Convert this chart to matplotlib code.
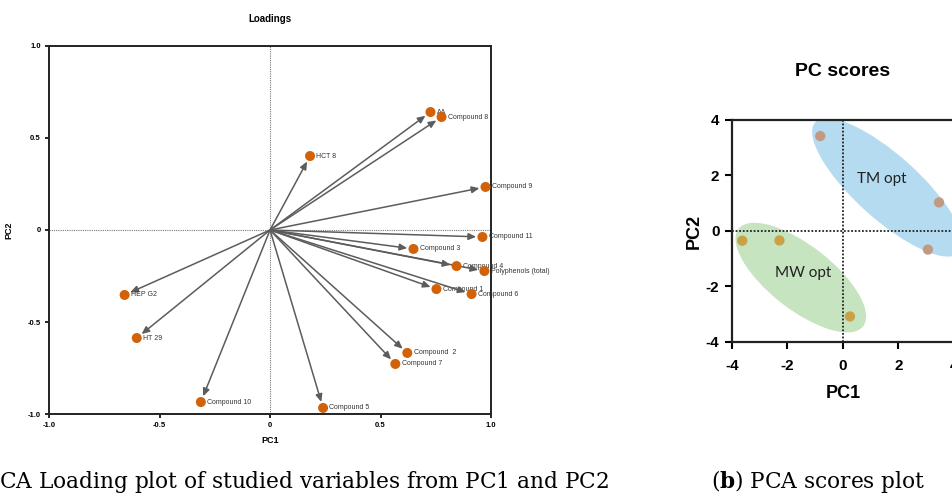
import matplotlib

matplotlib.use("Agg")
import matplotlib.pyplot as plt
from matplotlib.patches import Ellipse

plt.rcParams["axes.unicode_minus"] = False
plt.rcParams["mathtext.fontset"] = "custom"
plt.rcParams["mathtext.rm"] = "DejaVu Serif"
plt.rcParams["mathtext.bf"] = "DejaVu Serif:bold"

# loadings (PC1, PC2)
var_names = ["AA", "Compound 8", "HCT 8", "Compound 9", "Compound 11", "Compound 3",
             "Compound 4", "Polyphenols (total)", "Compound 1", "Compound 6",
             "Compound  2", "Compound 7", "Compound 5", "Compound 10", "HEP G2", "HT 29"]
load_pc1 = [0.726, 0.776, 0.181, 0.975, 0.961, 0.649, 0.844, 0.970, 0.753, 0.912,
            0.621, 0.567, 0.240, -0.313, -0.658, -0.603]
load_pc2 = [0.641, 0.614, 0.402, 0.234, -0.038, -0.103, -0.196, -0.223, -0.321, -0.348,
            -0.668, -0.728, -0.967, -0.935, -0.353, -0.587]
load_ticks = [-1.0, -0.5, 0, 0.5, 1.0]
load_ticklabels = ["-1.0", "-0.5", "0", "0.5", "1.0"]

# scores, two groups
tm_pc1 = [-0.82, 3.46, 3.06]
tm_pc2 = [3.42, 1.03, -0.67]
mw_pc1 = [-3.63, -2.29, 0.25]
mw_pc2 = [-0.35, -0.34, -3.08]
score_ticks = [-4, -2, 0, 2, 4]

caption_a = r"($\mathbf{a}$) PCA Loading plot of studied variables from PC1 and PC2"
caption_b = r"($\mathbf{b}$) PCA scores plot"

ORANGE = "#d2620a"
GREY = "#5c5c5c"
W, H = 952, 496

fig = plt.figure(figsize=(9.52, 4.96), dpi=100)

# ---- (a) loadings ----
ax = fig.add_axes([0.0515, 0.1653, 0.4643, 0.742])
ax.set_xlim(-1, 1)
ax.set_ylim(-1, 1)
ax.axhline(0, color="#777777", lw=0.8, ls=(0, (1, 1)), zorder=0)
ax.axvline(0, color="#777777", lw=0.8, ls=(0, (1, 1)), zorder=0)
for name, x, y in zip(var_names, load_pc1, load_pc2):
    ax.annotate("", xy=(x, y), xytext=(0, 0),
                arrowprops=dict(arrowstyle="-|>,head_length=0.45,head_width=0.2",
                                color=GREY, lw=1.1, shrinkA=0, shrinkB=4.5))
    ax.annotate(name, xy=(x, y), xytext=(4.5, 0), textcoords="offset points",
                va="center", ha="left", fontsize=5, color="#333333",
                family="Liberation Sans")
ax.scatter(load_pc1, load_pc2, s=52, color=ORANGE, zorder=3, edgecolors="none")
ax.set_xticks(load_ticks)
ax.set_xticklabels(load_ticklabels)
ax.set_yticks(load_ticks)
ax.set_yticklabels(load_ticklabels)
for lab in ax.get_xticklabels() + ax.get_yticklabels():
    lab.set_fontsize(5.5)
    lab.set_fontweight("bold")
    lab.set_family("Liberation Sans")
ax.tick_params(length=3, width=1.2, pad=3)
for sp in ax.spines.values():
    sp.set_linewidth(1.4)
    sp.set_color("#222222")
ax.set_xlabel("PC1", fontsize=6.5, fontweight="bold", family="Liberation Sans", labelpad=5)
ax.set_ylabel("PC2", fontsize=6.5, fontweight="bold", family="Liberation Sans", labelpad=10)
ax.set_title("Loadings", fontsize=7, fontweight="bold", family="Liberation Sans", pad=17)

# ---- (b) scores ----
bx = fig.add_axes([0.7689, 0.3105, 0.2332, 0.4476])
bx.set_xlim(-4, 4)
bx.set_ylim(-4, 4)
bx.add_patch(Ellipse((1.6, 1.57), 7.0, 2.3, angle=-42, color="#b5dbf0", lw=0, zorder=1))
bx.add_patch(Ellipse((-1.52, -1.68), 5.7, 2.3, angle=-38, color="#c6e4c0", lw=0, zorder=1))
bx.axhline(0, color="#222222", lw=1.3, ls=(0, (1, 1)), zorder=2)
bx.axvline(0, color="#222222", lw=1.3, ls=(0, (1, 1)), zorder=2)
bx.scatter(tm_pc1, tm_pc2, s=55, color="#c29a84", edgecolors="none", zorder=3)
bx.scatter(mw_pc1, mw_pc2, s=55, color="#c9a247", edgecolors="none", zorder=3)
bx.text(1.39, 1.89, "TM opt", fontsize=11, ha="center", va="center", family="Lato", color="#222222")
bx.text(-1.44, -1.52, "MW opt", fontsize=11, ha="center", va="center", family="Lato", color="#222222")
bx.set_xticks(score_ticks)
bx.set_yticks(score_ticks)
for lab in bx.get_xticklabels() + bx.get_yticklabels():
    lab.set_fontsize(11)
    lab.set_fontweight("bold")
    lab.set_family("Liberation Sans")
bx.tick_params(length=5, width=1.5, pad=4)
bx.tick_params(axis="x", pad=7)
for sp in bx.spines.values():
    sp.set_linewidth(1.6)
    sp.set_color("#222222")
bx.set_xlabel("PC1", fontsize=13, fontweight="bold", family="Liberation Sans", labelpad=9)
bx.set_ylabel("PC2", fontsize=13, fontweight="bold", family="Liberation Sans", labelpad=2)
bx.set_title("PC scores", fontsize=14, fontweight="bold", family="Liberation Sans", pad=32)

# ---- captions ----
# size the serif caption so "PCA scores plot" spans ~174 px like the reference
renderer = fig.canvas.get_renderer()
probe = fig.text(0, 0, "PCA scores plot", fontsize=15, family="DejaVu Serif")
cap_size = 15 * 174 / probe.get_window_extent(renderer).width
probe.remove()

# left caption is cut at the figure edge: "(a) P" falls outside
probe = fig.text(0, 0, r"($\mathbf{a}$) P", fontsize=cap_size, family="DejaVu Serif")
lead = probe.get_window_extent(renderer).width
probe.remove()

base_y = 1 - 488 / H
fig.text((-lead + 1) / W, base_y, caption_a, ha="left", va="baseline",
         fontsize=cap_size, family="DejaVu Serif")
fig.text(711 / W, base_y, caption_b, ha="left", va="baseline",
         fontsize=cap_size, family="DejaVu Serif")

fig.savefig("out.png", dpi=100)
